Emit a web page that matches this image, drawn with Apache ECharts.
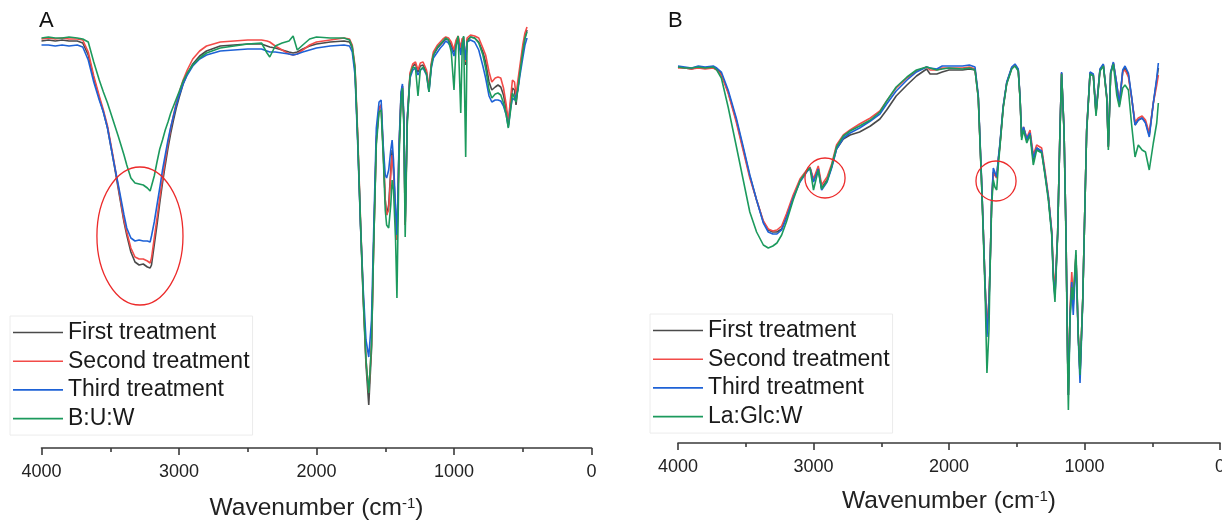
<!DOCTYPE html>
<html>
<head>
<meta charset="utf-8">
<script src="https://cdn.jsdelivr.net/npm/echarts@6/dist/echarts.min.js"></script>
<style>
html,body{margin:0;padding:0;background:#fff;}
#chart{width:1222px;height:520px;}
</style>
</head>
<body>
<div id="chart"></div>
<script>
// ---------- DATA ----------
const treatmentNames = ['First treatment', 'Second treatment', 'Third treatment'];
const controlNameA = 'B:U:W';
const controlNameB = 'La:Glc:W';
const axisTitle = 'Wavenumber (cm{sup|-1})';
const panelLabels = ['A', 'B'];

// Panel A: wavenumber (cm-1) and transmittance (a.u.)
const wnA = [4000,3950,3900,3850,3800,3740,3700,3660,3620,3580,3550,3520,3480,3440,3400,3380,3350,3320,3290,3260,3230,3210,3200,3180,3160,3140,3120,3100,3080,3060,3040,3020,3000,2970,2940,2900,2850,2800,2700,2600,2500,2400,2360,2340,2300,2250,2200,2170,2140,2100,2050,2000,1900,1800,1760,1740,1720,1700,1680,1660,1640,1620,1600,1585,1565,1545,1530,1515,1500,1490,1475,1460,1450,1440,1425,1415,1400,1385,1375,1365,1355,1340,1320,1300,1280,1262,1245,1225,1200,1182,1165,1150,1120,1100,1080,1060,1040,1020,1000,985,970,951,940,930,915,905,880,850,820,790,770,745,725,700,680,660,640,620,605,590,575,560,549,535,520,500,484,469];
const firstA = [407,408,407,408,407,407,405,393,370,350,336,320,290,258,226,213,196,186,183,184,181,180,183,203,223,245,265,283,300,315,328,340,350,364,374,384,392,397,402,403,404,404,402,401,400,398,396,395,396,399,402,404,406,407,406,400,378,308,223,148,83,43,98,198,308,340,343,298,248,233,243,278,298,278,233,208,298,353,362,328,223,328,373,382,384,376,382,383,376,358,383,393,400,403,406,409,408,403,396,406,411,398,408,411,383,408,411,410,406,396,386,366,358,361,363,361,353,338,323,343,360,358,343,360,378,398,410,418];
const secondA = [409,410,409,410,409,409,408,396,372,352,338,322,292,260,228,216,200,191,189,189,187,185,190,210,230,250,270,288,305,320,333,345,355,368,378,389,397,402,406,407,408,408,407,406,402,398,394,393,394,398,403,406,408,410,409,403,382,313,228,153,88,55,103,200,308,340,343,298,248,233,238,273,293,278,233,208,298,353,362,328,223,328,375,384,386,378,385,386,378,360,385,396,403,406,409,411,410,406,398,408,412,400,410,412,386,410,413,412,410,400,393,376,366,370,371,370,360,343,326,348,368,366,353,368,383,403,415,421];
const thirdA = [403,403,402,403,402,403,401,388,366,348,336,320,290,262,233,220,210,207,208,207,207,206,212,226,243,260,278,293,308,321,332,343,352,364,373,382,389,393,397,398,399,399,397,396,396,395,394,393,394,396,398,400,402,403,402,396,373,303,223,158,108,91,128,213,320,346,348,303,273,270,278,298,308,288,238,213,303,356,364,333,228,330,370,378,380,373,378,380,373,356,380,390,396,400,403,407,405,400,392,402,408,393,405,408,388,406,408,406,398,382,370,352,346,348,348,347,342,333,321,338,350,348,348,358,373,390,403,410];
const buwA = [410,411,410,410,411,410,409,406,386,368,356,345,328,311,293,283,270,265,264,263,260,257,256,272,286,299,308,318,326,335,342,349,356,367,375,383,390,395,400,402,404,405,395,391,402,405,407,412,398,403,409,411,410,410,408,401,380,308,226,150,88,55,103,198,303,336,338,293,238,223,220,243,268,258,208,150,288,348,360,323,211,323,372,381,380,352,378,381,374,356,382,393,401,404,407,410,408,396,358,403,412,335,403,412,291,406,411,410,405,393,380,358,350,354,355,353,345,333,320,336,355,350,346,360,376,396,410,416];

// Panel B: wavenumber (cm-1) and transmittance (a.u.)
const wnB = [4000,3950,3900,3850,3800,3740,3714,3680,3630,3570,3520,3470,3420,3370,3334,3300,3270,3235,3200,3150,3100,3050,3026,3000,2965,2940,2900,2866,2830,2780,2730,2660,2580,2510,2460,2390,2310,2240,2165,2140,2090,2050,2000,1900,1850,1808,1784,1760,1747,1734,1720,1705,1697,1685,1673,1661,1648,1636,1624,1600,1574,1537,1513,1489,1476,1464,1450,1439,1426,1402,1378,1353,1316,1292,1267,1242,1230,1218,1198,1181,1169,1151,1137,1124,1119,1107,1094,1083,1063,1046,1033,1013,996,984,959,935,915,886,861,836,824,807,787,762,743,718,701,676,652,627,603,575,550,522,492,467,455];
const firstB = [376,375,374,376,375,375,374,369,351,323,295,267,243,221,213,211,211,214,226,246,262,272,275,262,275,255,263,276,294,304,308,311,317,324,333,347,358,367,374,369,369,371,373,373,374,373,346,263,213,160,113,143,176,243,271,271,266,283,298,336,360,375,378,373,346,306,315,316,303,310,283,295,291,270,246,211,168,148,210,313,370,313,213,83,48,128,163,138,188,108,68,143,243,313,370,368,330,373,378,346,296,370,380,358,338,371,375,368,345,318,323,325,321,308,340,363,375];
const secondB = [375,375,374,375,374,375,373,368,350,321,293,265,243,222,214,212,213,217,229,248,264,273,276,264,277,258,266,279,298,308,313,319,325,332,342,355,365,372,376,373,373,375,375,375,376,374,346,263,213,160,110,143,176,243,270,268,265,283,298,336,360,375,378,373,346,306,316,317,305,313,288,298,295,273,248,213,173,153,210,313,370,313,213,83,48,133,171,143,188,108,71,143,243,313,370,368,330,373,378,346,296,370,380,359,340,371,373,366,345,321,325,327,323,310,340,358,368];
const thirdB = [377,376,375,377,376,377,375,371,353,325,297,268,243,220,211,209,209,213,225,245,261,271,275,261,274,253,261,275,294,305,310,315,322,329,339,352,363,371,376,375,374,377,377,377,378,376,348,265,213,160,106,138,176,243,275,276,266,285,300,337,361,376,379,374,347,307,316,317,304,310,285,295,292,270,246,211,166,146,210,313,371,313,213,83,48,125,161,128,185,105,60,141,243,313,371,369,331,374,379,347,297,371,381,359,339,373,377,370,346,318,323,325,320,306,340,365,380];
const lgwB = [376,375,375,376,375,376,373,365,336,297,264,231,211,198,195,197,200,208,221,243,262,272,275,253,273,254,262,277,296,307,312,317,323,331,342,356,366,373,376,375,373,374,375,374,375,373,345,261,208,153,70,113,173,238,263,256,253,278,296,335,359,374,377,372,345,303,313,313,300,308,278,293,290,268,243,208,163,141,208,311,369,311,208,73,33,123,156,143,193,108,68,143,243,311,369,367,327,372,377,345,293,369,379,348,336,355,358,353,318,286,298,293,291,273,300,320,340];

// Red ellipse annotations: centre (wavenumber, value) and half-extents in data units
const marksA = [{w: 3284, v: 212, dw: 313, dv: 69}];
const marksB = [{w: 2915, v: 265, dw: 148, dv: 20}, {w: 1653, v: 262, dw: 148, dv: 20}];

// ---------- CHART ----------
const FONT = 'Liberation Sans, Arial, sans-serif';
const colors = ['#4a4a4a', '#f24b48', '#1e62d6', '#1c9a5d'];
const chart = echarts.init(document.getElementById('chart'), null, {renderer: 'canvas'});

function xAxisCfg(gridIndex, nameGap) {
  return {
    gridIndex: gridIndex, type: 'value', inverse: true, min: 0, max: 4000, interval: 1000,
    axisLine: {onZero: false, lineStyle: {color: '#3a3a3a', width: 1.6}},
    axisTick: {show: true, inside: false, length: 7, lineStyle: {color: '#3a3a3a', width: 1.6}},
    minorTick: {show: true, splitNumber: 2, length: 4, lineStyle: {color: '#3a3a3a', width: 1.6}},
    splitLine: {show: false},
    axisLabel: {fontSize: 18, margin: 15, color: '#222', fontFamily: FONT, formatter: v => String(v)},
    name: axisTitle, nameLocation: 'middle', nameGap: nameGap,
    nameTextStyle: {fontSize: 24.5, color: '#222', fontFamily: FONT,
      rich: {sup: {fontSize: 15, color: '#222', fontFamily: FONT, verticalAlign: 'top'}}}
  };
}
function yAxisCfg(gridIndex) {
  return {gridIndex: gridIndex, type: 'value', min: 0, max: 430, show: false};
}
function mkSeries(name, wn, vals, idx, colorIdx) {
  return {
    name: name, type: 'line', xAxisIndex: idx, yAxisIndex: idx,
    data: wn.map((w, i) => [w, vals[i]]),
    symbol: 'none', smooth: false, animation: false,
    lineStyle: {color: colors[colorIdx], width: 1.6},
    itemStyle: {color: colors[colorIdx]},
    z: 2 + colorIdx
  };
}
function legendCfg(left, top, names) {
  return {
    data: names, orient: 'vertical', left: left, top: top,
    icon: 'rect', itemWidth: 50, itemHeight: 1.6, itemGap: 5.7,
    padding: [5, 3, 5, 3], borderColor: '#ececec', borderWidth: 1, backgroundColor: '#fff',
    textStyle: {fontSize: 23, lineHeight: 23, color: '#1a1a1a', fontFamily: FONT},
    selectedMode: false
  };
}

const namesA = treatmentNames.concat([controlNameA]);
const namesB = treatmentNames.concat([controlNameB]);

chart.setOption({
  backgroundColor: '#fff',
  animation: false,
  title: [
    {text: panelLabels[0], left: 39, top: 10, padding: 0, textStyle: {fontSize: 22, fontWeight: 'normal', color: '#111', fontFamily: FONT}},
    {text: panelLabels[1], left: 668, top: 10, padding: 0, textStyle: {fontSize: 22, fontWeight: 'normal', color: '#111', fontFamily: FONT}}
  ],
  grid: [
    {left: 41.5, top: 18, width: 550, height: 430, outerBoundsMode: 'none'},
    {left: 678, top: 13, width: 542, height: 430, outerBoundsMode: 'none'}
  ],
  xAxis: [xAxisCfg(0, 48), xAxisCfg(1, 46)],
  yAxis: [yAxisCfg(0), yAxisCfg(1)],
  legend: [legendCfg(10, 316, namesA), legendCfg(650, 314, namesB)],
  series: [
    mkSeries(namesA[0], wnA, firstA, 0, 0),
    mkSeries(namesA[1], wnA, secondA, 0, 1),
    mkSeries(namesA[2], wnA, thirdA, 0, 2),
    mkSeries(namesA[3], wnA, buwA, 0, 3),
    mkSeries(namesB[0], wnB, firstB, 1, 0),
    mkSeries(namesB[1], wnB, secondB, 1, 1),
    mkSeries(namesB[2], wnB, thirdB, 1, 2),
    mkSeries(namesB[3], wnB, lgwB, 1, 3)
  ]
});

function ellipses(marks, gridIndex) {
  return marks.map(m => {
    const c = chart.convertToPixel({gridIndex: gridIndex}, [m.w, m.v]);
    const e = chart.convertToPixel({gridIndex: gridIndex}, [m.w - m.dw, m.v + m.dv]);
    return {
      type: 'ellipse', z: 100, silent: true,
      shape: {cx: c[0], cy: c[1], rx: Math.abs(e[0] - c[0]), ry: Math.abs(e[1] - c[1])},
      style: {fill: 'none', stroke: '#ec2a2a', lineWidth: 1.3}
    };
  });
}
chart.setOption({graphic: ellipses(marksA, 0).concat(ellipses(marksB, 1))});
</script>
</body>
</html>
